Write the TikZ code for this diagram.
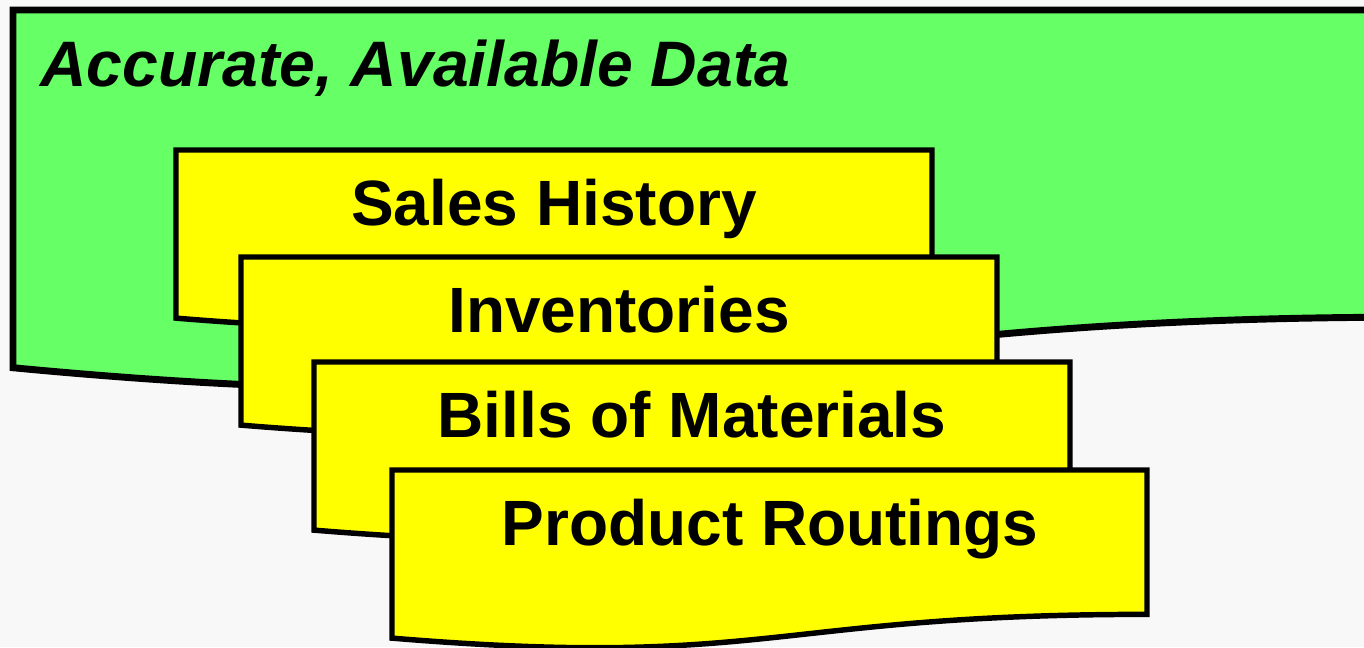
\documentclass[tikz,border=0pt]{standalone}
\usepackage{fontspec}
\setmainfont{Liberation Sans}
\definecolor{bgc}{HTML}{F8F8F8}
\definecolor{greenfill}{HTML}{66FF66}
\definecolor{yellowfill}{HTML}{FFFF00}
\tikzset{
  greendoc/.style={fill=greenfill, draw=black, line width=5.2pt, line join=miter},
  yellowdoc/.style={fill=yellowfill, draw=black, line width=4.1pt, line join=miter},
  doclabel/.style={anchor=base, inner sep=0pt, font=\fontsize{48}{52}\selectfont\bfseries},
  titlelabel/.style={anchor=base west, inner sep=0pt, font=\fontsize{48.2}{52}\selectfont\bfseries\itshape}
}
% #1 style, #2 x0, #3 y0, #4 w, #5 h
\newcommand\docshape[5]{%
  \path[#1] (#2,#3) -- ({#2+#4},#3) -- ({#2+#4},{#3+0.802*#5})
    .. controls ({#2+0.5*#4},{#3+0.802*#5}) and ({#2+0.5*#4},{#3+1.1075*#5}) ..
    (#2,{#3+0.934*#5}) -- cycle;}
\begin{document}
\begin{tikzpicture}[x=0.75pt,y=-0.75pt]
\useasboundingbox (0,0) rectangle (1364,647);
\fill[bgc] (0,0) rectangle (1364,647);
\begin{scope}
\clip (0,0) rectangle (1364,647);
\docshape{greendoc}{13}{10}{1400}{383}
\node[titlelabel] (title) at (40,86) {Accurate, Available Data};
\docshape{yellowdoc}{176}{150}{756}{180}
\node[doclabel] (sales) at (554,225) {Sales History};
\docshape{yellowdoc}{241}{257}{756}{180}
\node[doclabel] (inv) at (619,332) {Inventories};
\docshape{yellowdoc}{314}{362}{756}{180}
\node[doclabel] (bills) at (692,437) {Bills of Materials};
\docshape{yellowdoc}{392}{470}{755}{180}
\node[doclabel] (routing) at (770,545) {Product Routings};
\end{scope}
\end{tikzpicture}
\end{document}
